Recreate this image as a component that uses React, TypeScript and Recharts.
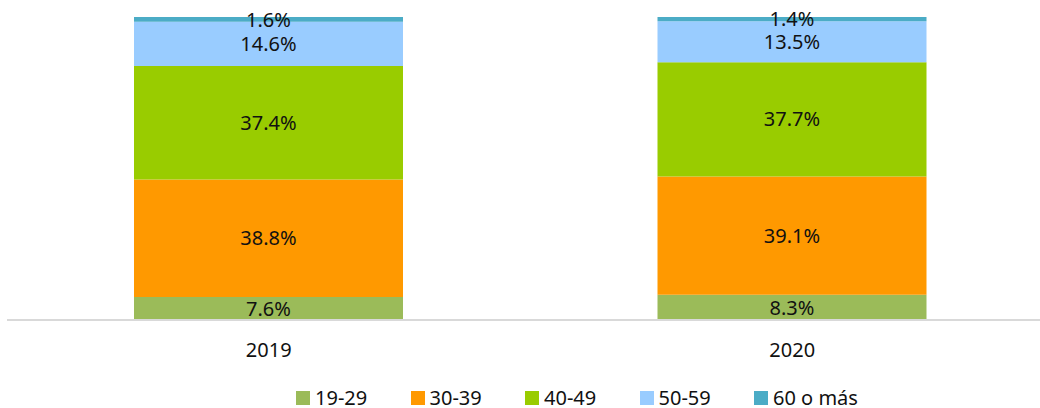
import React from 'react';
import { BarChart, Bar, XAxis, YAxis, Legend, LabelList } from 'recharts';

const years = ['2019', '2020'];
const age19to29 = [7.6, 8.3];
const age30to39 = [38.8, 39.1];
const age40to49 = [37.4, 37.7];
const age50to59 = [14.6, 13.5];
const age60plus = [1.6, 1.4];

const series = [
  { key: 'a', name: '19-29', color: '#9bbb59', values: age19to29 },
  { key: 'b', name: '30-39', color: '#ff9900', values: age30to39 },
  { key: 'c', name: '40-49', color: '#99cc00', values: age40to49 },
  { key: 'd', name: '50-59', color: '#99ccff', values: age50to59 },
  { key: 'e', name: '60 o más', color: '#4bacc6', values: age60plus },
];

const data = years.map((year, i) => {
  const row: Record<string, string | number> = { year };
  series.forEach(s => { row[s.key] = s.values[i]; });
  return row;
});

const FONT = '"Noto Sans", sans-serif';

const renderLegend = () => (
  <div style={{ display: 'flex', alignItems: 'center', fontFamily: FONT, fontSize: 20, color: '#111' }}>
    {series.map(s => (
      <div key={s.key} style={{ display: 'flex', alignItems: 'center', width: 114.5, whiteSpace: 'nowrap' }}>
        <span style={{ display: 'inline-block', width: 14, height: 14, background: s.color, marginRight: 5 }} />
        <span style={{ lineHeight: '28px' }}>{s.name}</span>
      </div>
    ))}
  </div>
);

export default function App() {
  return (
    <div style={{ position: 'absolute', left: 0, top: 0, width: 1040, height: 408, overflow: 'hidden', background: '#fff', fontFamily: FONT }}>
      <BarChart width={1060} height={408} data={data} margin={{ top: 17, right: 6, left: 7, bottom: 0 }} barSize={269}>
        <XAxis
          dataKey="year"
          height={88}
          tickLine={false}
          tickSize={0}
          tickMargin={23}
          axisLine={{ stroke: '#d9d9d9', strokeWidth: 2 }}
          tick={{ fill: '#111', fontSize: 20, fontFamily: FONT }}
        />
        <YAxis hide domain={[0, 100]} />
        <Legend
          verticalAlign="middle"
          content={renderLegend}
          wrapperStyle={{ position: 'absolute', left: 296, top: 384, width: 600, height: 28 }}
        />
        {series.map(s => (
          <Bar key={s.key} dataKey={s.key} name={s.name} stackId="1" fill={s.color} isAnimationActive={false}>
            <LabelList
              dataKey={s.key}
              position="center"
              formatter={(v: number) => `${v.toFixed(1)}%`}
              style={{ fill: '#111', fontSize: 20, fontFamily: FONT }}
            />
          </Bar>
        ))}
      </BarChart>
    </div>
  );
}
